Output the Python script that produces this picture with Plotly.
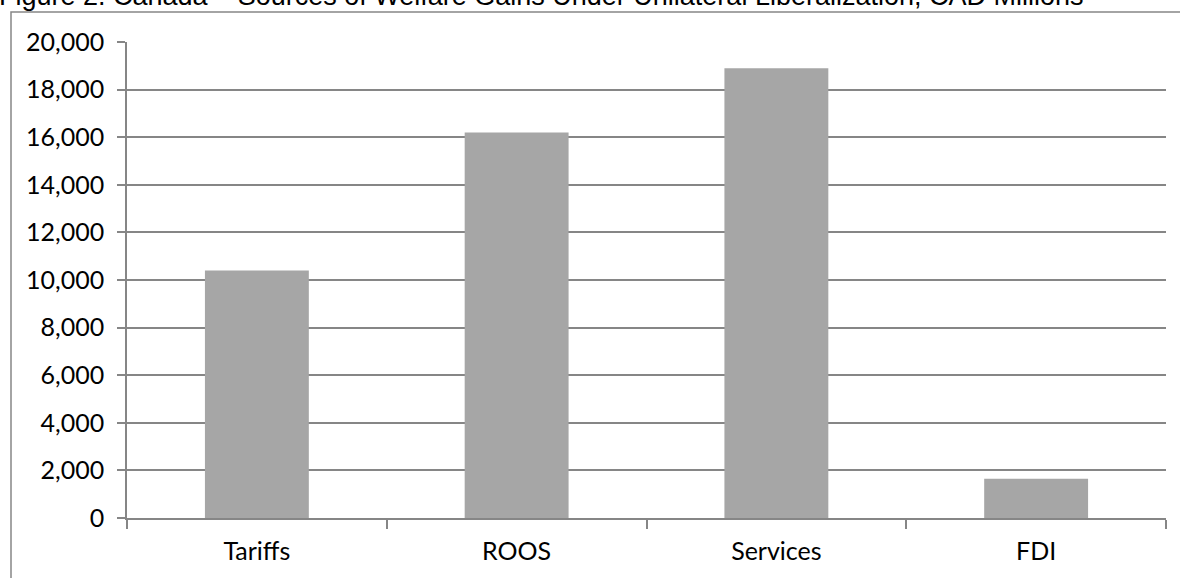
import plotly.graph_objects as go

categories = ["Tariffs", "ROOS", "Services", "FDI"]
values = [10400, 16200, 18900, 1650]
y_tickvals = [0, 2000, 4000, 6000, 8000, 10000, 12000, 14000, 16000, 18000, 20000]
y_ticktext = ["0", "2,000", "4,000", "6,000", "8,000", "10,000", "12,000", "14,000", "16,000", "18,000", "20,000"]
title_text = "Figure 2. Canada \u2013 Sources of Welfare Gains Under Unilateral Liberalization, CAD Millions"

W, H = 1180, 578
L, R, T, B = 127, 1166, 42, 518
pw, ph = R - L, B - T

def px_x(x):
    return (x - L) / pw

def px_y(y):
    return (B - y) / ph

GRID = "#868686"

fig = go.Figure()
fig.add_trace(go.Bar(x=categories, y=values, marker=dict(color="#A6A6A6", line=dict(width=0)), width=0.4))

fig.update_layout(
    width=W, height=H,
    margin=dict(l=L, r=W - R, t=T, b=H - B, pad=0),
    paper_bgcolor="white", plot_bgcolor="white",
    showlegend=False,
    font=dict(family="Lato", size=25, color="#000000"),
    xaxis=dict(
        type="category", range=[-0.5, 3.5], tickson="boundaries",
        ticks="outside", ticklen=9, tickcolor=GRID, tickwidth=1.5,
        showline=True, linecolor=GRID, linewidth=1.5, showgrid=False,
        tickfont=dict(family="Lato", size=25, color="#000000"),
        ticklabelstandoff=10,
    ),
    yaxis=dict(
        range=[0, 20000], tickvals=y_tickvals, ticktext=y_ticktext,
        ticks="outside", ticklen=8, tickcolor=GRID, tickwidth=1.5,
        showline=True, linecolor=GRID, linewidth=1.5,
        showgrid=True, gridcolor=GRID, gridwidth=1.5, zeroline=False,
        tickfont=dict(family="Lato", size=25, color="#000000"),
        ticklabelstandoff=8,
    ),
)

# outer chart frame (partially off-page)
fig.add_shape(type="rect", xref="paper", yref="paper",
              x0=px_x(11), x1=px_x(1200), y0=px_y(600), y1=px_y(12),
              line=dict(color=GRID, width=1.5), fillcolor="rgba(0,0,0,0)", layer="below")

# cut-off title at top
fig.add_annotation(text=title_text, xref="paper", yref="paper",
                   x=px_x(-2), y=px_y(12), xanchor="left", yanchor="bottom",
                   showarrow=False, borderpad=0,
                   font=dict(family="Liberation Sans", size=27, color="#000000"))

fig.write_html("out.html")
